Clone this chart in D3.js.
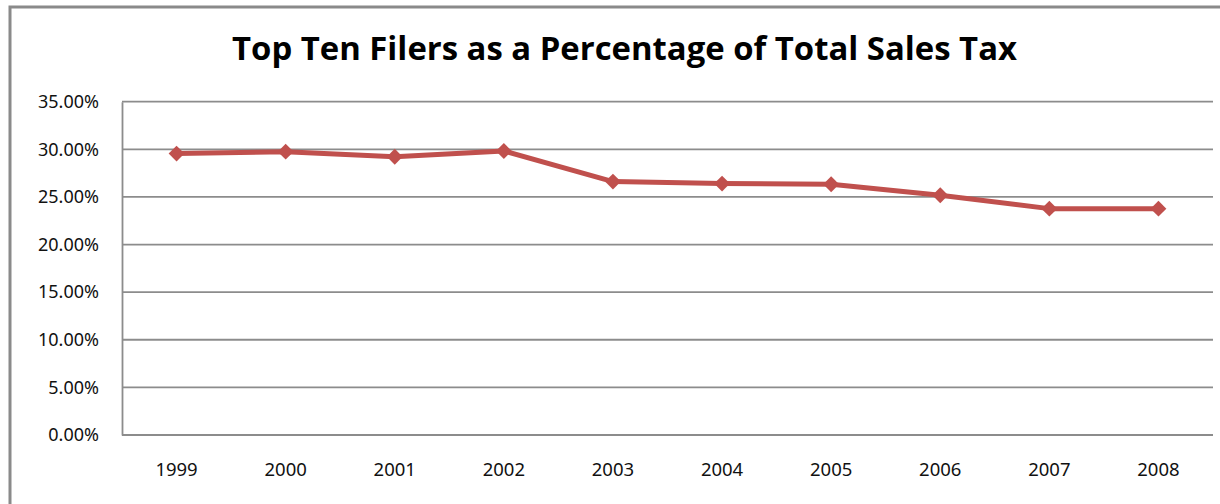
<!DOCTYPE html>
<html>
<head>
<meta charset="utf-8">
<script src="https://cdn.jsdelivr.net/npm/d3@7"></script>
<style>
  html, body { margin: 0; padding: 0; background: #fff; }
  svg { display: block; }
</style>
</head>
<body>
<svg id="chart" width="1220" height="504"></svg>
<script>
// Share of total sales tax paid by the ten largest filers, by year
const years = ["1999", "2000", "2001", "2002", "2003", "2004", "2005", "2006", "2007", "2008"];
const shares = [0.2955, 0.2975, 0.2922, 0.2982, 0.2661, 0.2640, 0.2633, 0.2518, 0.2377, 0.2377];
const yTicks = [0, 0.05, 0.10, 0.15, 0.20, 0.25, 0.30, 0.35];
const titleText = "Top Ten Filers as a Percentage of Total Sales Tax";

const svg = d3.select("#chart");
const W = 1220, H = 504;
const plot = { left: 122, right: 1213, top: 101.7, bottom: 435 };

// outer frame (top and left edges visible in the canvas)
svg.append("rect")
  .attr("x", 10).attr("y", 7)
  .attr("width", W + 20).attr("height", H + 20)
  .attr("fill", "none").attr("stroke", "#8a8a8a").attr("stroke-width", 3);

svg.append("text")
  .attr("x", 624.5).attr("y", 60)
  .attr("text-anchor", "middle")
  .attr("font-family", "'Open Sans', 'Noto Sans', sans-serif")
  .attr("font-weight", "bold")
  .attr("font-size", 32.5)
  .attr("textLength", 785)
  .attr("lengthAdjust", "spacingAndGlyphs")
  .attr("fill", "#000")
  .text(titleText);

const x = d3.scaleBand().domain(years).range([plot.left, plot.right]);
const y = d3.scaleLinear().domain([0, 0.35]).range([plot.bottom, plot.top]);

// horizontal gridlines
svg.append("g")
  .selectAll("line")
  .data(yTicks)
  .join("line")
  .attr("x1", plot.left).attr("x2", plot.right)
  .attr("y1", d => y(d)).attr("y2", d => y(d))
  .attr("stroke", "#8c8c8c").attr("stroke-width", 1.8);

const labelFont = "'Noto Sans', 'Open Sans', sans-serif";

// value axis
const yAxis = svg.append("g")
  .attr("transform", `translate(${plot.left},0)`)
  .call(d3.axisLeft(y).tickValues(yTicks).tickFormat(d3.format(".2%")).tickSize(0).tickPadding(23));
yAxis.select(".domain").attr("stroke", "#8c8c8c").attr("stroke-width", 1.8);
yAxis.selectAll("text")
  .attr("font-family", labelFont)
  .attr("font-size", 18)
  .attr("fill", "#111");

// category axis
const xAxis = svg.append("g")
  .attr("transform", `translate(0,${plot.bottom})`)
  .call(d3.axisBottom(x).tickSize(0).tickPadding(28));
xAxis.select(".domain").remove();
xAxis.selectAll("text")
  .attr("font-family", labelFont)
  .attr("font-size", 18.5)
  .attr("fill", "#111");

const cx = d => x(d) + x.bandwidth() / 2;
const pts = years.map((yr, i) => [cx(yr), y(shares[i])]);

svg.append("path")
  .attr("d", d3.line()(pts))
  .attr("fill", "none")
  .attr("stroke", "#c0504d")
  .attr("stroke-width", 5)
  .attr("stroke-linejoin", "round");

svg.append("g")
  .selectAll("path")
  .data(pts)
  .join("path")
  .attr("transform", d => `translate(${d[0]},${d[1]})`)
  .attr("d", d3.symbol().type(d3.symbolDiamond2).size(160))
  .attr("fill", "#c0504d");
</script>
</body>
</html>
